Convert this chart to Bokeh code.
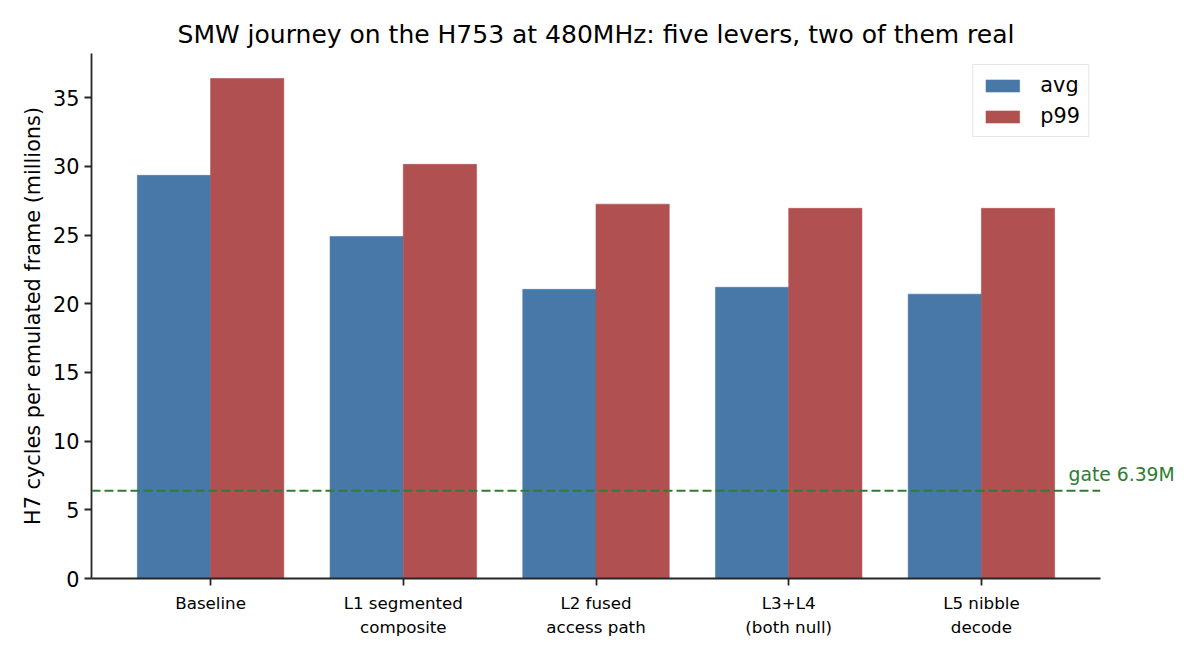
from bokeh.plotting import figure
from bokeh.models import Range1d, FixedTicker, Span, Legend, LegendItem, LinearAxis
from bokeh.embed import file_html
from bokeh.resources import INLINE

categories = ["Baseline", "L1 segmented\ncomposite", "L2 fused\naccess path",
              "L3+L4\n(both null)", "L5 nibble\ndecode"]
avg = [29.35, 24.9, 21.05, 21.2, 20.7]
p99 = [36.4, 30.15, 27.25, 26.95, 26.95]
gate = 6.39
series_names = ["avg", "p99"]
colors = ["#4878a8", "#b05050"]
gate_color = "#2e7d32"
title_text = "SMW journey on the H753 at 480MHz: five levers, two of them real"
y_label = "H7 cycles per emulated frame (millions)"
y_ticks = [0, 5, 10, 15, 20, 25, 30, 35]

FONT = "DejaVu Sans"
bw = 0.38
n = len(categories)
idx = list(range(n))
lo, hi = -bw, (n - 1) + bw
pad = 0.05 * (hi - lo)
ymax = max(p99) * 1.05

W, H = 1192, 652
BL, BR, BT, BB = 91, 92, 53, 74
frame_h = H - BT - BB

p = figure(width=W, height=H, output_backend="svg", toolbar_location=None,
           x_range=Range1d(lo - pad, hi + pad), y_range=Range1d(0, ymax),
           min_border_left=BL, min_border_right=BR, min_border_top=BT, min_border_bottom=BB)
p.outline_line_color = None
p.xgrid.visible = False
p.ygrid.visible = False
p.background_fill_color = "white"
p.border_fill_color = "white"

p.title.text = title_text
p.title.align = "center"
p.title.text_font = FONT
p.title.text_font_size = "25px"
p.title.text_font_style = "normal"
p.title.text_color = "#000000"

r_avg = p.vbar(x=[i - bw / 2 for i in idx], top=avg, width=bw, bottom=0,
               fill_color=colors[0], line_color=colors[0], line_width=0.6)
r_p99 = p.vbar(x=[i + bw / 2 for i in idx], top=p99, width=bw, bottom=0,
               fill_color=colors[1], line_color=colors[1], line_width=0.6)

span = Span(location=gate, dimension="width", line_color=gate_color,
            line_width=2, line_dash="9 4")
p.add_layout(span)

# gate label drawn as a right-side tick label (not clipped by the frame)
lift = 16 * ymax / frame_h  # raise the text ~16px above the line
p.extra_y_ranges = {"gate": Range1d(start=0 - lift, end=ymax - lift)}
gax = LinearAxis(y_range_name="gate", ticker=FixedTicker(ticks=[gate]),
                 major_label_overrides={gate: "gate %.2fM" % gate},
                 axis_line_color=None, major_tick_line_color=None,
                 major_tick_in=0, major_tick_out=0, minor_tick_line_color=None,
                 major_label_standoff=-32,
                 major_label_text_font=FONT, major_label_text_font_size="18.75px",
                 major_label_text_color=gate_color)
p.add_layout(gax, "right")

for ax in (p.xaxis[0], p.yaxis[0]):
    ax.axis_line_color = "#262626"
    ax.axis_line_width = 1.8
    ax.major_tick_line_color = "#262626"
    ax.major_tick_line_width = 1.8
    ax.major_tick_out = 7
    ax.major_tick_in = 0
    ax.minor_tick_line_color = None
    ax.major_label_text_font = FONT
    ax.major_label_text_color = "#000000"

p.xaxis[0].ticker = FixedTicker(ticks=idx)
p.xaxis[0].major_label_overrides = {i: c for i, c in zip(idx, categories)}
p.xaxis[0].major_label_text_font_size = "16.7px"
p.xaxis[0].major_label_standoff = 7

yax = p.yaxis[0]
yax.ticker = FixedTicker(ticks=y_ticks)
yax.major_label_text_font_size = "20.8px"
yax.major_label_standoff = 5
yax.axis_label = y_label
yax.axis_label_text_font = FONT
yax.axis_label_text_font_size = "20.8px"
yax.axis_label_text_font_style = "normal"
yax.axis_label_text_color = "#000000"
yax.axis_label_standoff = 5

legend = Legend(items=[LegendItem(label=series_names[0], renderers=[r_avg]),
                       LegendItem(label=series_names[1], renderers=[r_p99])],
                location="top_right", label_text_font=FONT, label_text_font_size="20.8px",
                label_text_color="#000000",
                glyph_width=42, glyph_height=15, label_height=23, spacing=7,
                label_standoff=17, padding=8, margin=11,
                border_line_color="#cccccc", border_line_width=1.5,
                background_fill_color="white", background_fill_alpha=0.8)
p.add_layout(legend)

open("out.html", "w").write(file_html(p, INLINE))
